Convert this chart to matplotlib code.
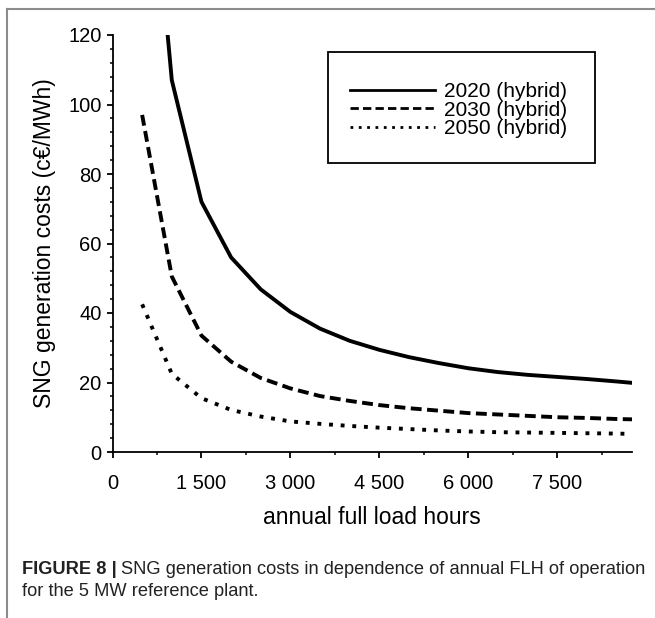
import matplotlib
matplotlib.use("Agg")
import matplotlib.pyplot as plt
from matplotlib.lines import Line2D
from matplotlib.patches import Rectangle
from matplotlib.ticker import MultipleLocator, FuncFormatter

plt.rcParams['font.family'] = ['Liberation Sans', 'DejaVu Sans']

# full load hours (h/a)
hours = [500, 1000, 1500, 2000, 2500, 3000, 3500, 4000, 4500, 5000,
         5500, 6000, 6500, 7000, 7500, 8000, 8500, 8760]

# SNG generation costs (c€/MWh)
cost_2020 = [200, 107, 72, 56, 46.8, 40.3, 35.5, 32.0, 29.4, 27.3,
             25.6, 24.1, 23.0, 22.2, 21.6, 21.0, 20.3, 19.9]
cost_2030 = [97, 50.5, 33.5, 26.0, 21.3, 18.3, 16.1, 14.7, 13.5, 12.6,
             11.9, 11.2, 10.8, 10.4, 10.0, 9.8, 9.5, 9.4]
cost_2050 = [42.5, 22.5, 15.5, 12.1, 10.2, 8.8, 8.1, 7.5, 7.0, 6.6,
             6.2, 5.9, 5.7, 5.6, 5.5, 5.4, 5.3, 5.2]

labels = ['2020 (hybrid)', '2030 (hybrid)', '2050 (hybrid)']

fig = plt.figure(figsize=(6.55, 6.18), dpi=100)
W, H = 655, 618

ax = fig.add_axes([112.5 / W, 1 - 452 / H, (632 - 112.5) / W, (452 - 35) / H])

lw = 2.8
ax.plot(hours, cost_2020, color='black', lw=lw, solid_joinstyle='round')
ax.plot(hours, cost_2030, color='black', lw=lw, linestyle=(0, (2.8, 1.4)),
        dash_capstyle='butt')
ax.plot(hours, cost_2050, color='black', lw=lw, linestyle=(0, (1.0, 2.0)),
        dash_capstyle='butt')

ax.set_xlim(0, 8760)
ax.set_ylim(0, 120)
ax.xaxis.set_major_locator(MultipleLocator(1500))
ax.xaxis.set_minor_locator(MultipleLocator(750))
ax.yaxis.set_major_locator(MultipleLocator(20))
ax.yaxis.set_minor_locator(MultipleLocator(4))
ax.xaxis.set_major_formatter(FuncFormatter(lambda v, p: f"{int(v):,}".replace(",", " ")))

for s in ['top', 'right']:
    ax.spines[s].set_visible(False)
for s in ['left', 'bottom']:
    ax.spines[s].set_linewidth(1.3)
ax.tick_params(which='major', direction='out', length=4, width=1.3, labelsize=14.5)
ax.tick_params(which='minor', direction='out', length=2.5, width=1.1)
ax.tick_params(axis='y', which='major', pad=4)
ax.tick_params(axis='x', which='major', pad=12)

fig.text(45 / W, 1 - 243.5 / H, 'SNG generation costs (c€/MWh)', rotation=90,
         ha='center', va='center', fontsize=16.5)
fig.text(372 / W, 1 - 518 / H, 'annual full load hours',
         ha='center', va='center', fontsize=16.5)

# legend: box drawn separately, entries placed inside it
fig.add_artist(Rectangle((328 / W, 1 - 163 / H), (595 - 328) / W, (163 - 52) / H,
                         transform=fig.transFigure, facecolor='white',
                         edgecolor='black', lw=1.3, zorder=3))
handles = [Line2D([], [], color='black', lw=2.0),
           Line2D([], [], color='black', lw=2.0, linestyle=(0, (3, 1.5))),
           Line2D([], [], color='black', lw=2.0, linestyle=(0, (1, 2)))]
leg = fig.legend(handles, labels, loc='center left',
                 bbox_to_anchor=(350 / W, 1 - 110 / H),
                 fontsize=15, frameon=False, borderpad=0, borderaxespad=0,
                 labelspacing=-0.03, handlelength=4.1, handletextpad=0.43)
leg.set_zorder(4)

# page frame (left and top edges)
fig.add_artist(Line2D([7 / W, 7 / W], [0, 1 - 9 / H], color='#8c8c8c', lw=1.5,
                      transform=fig.transFigure))
fig.add_artist(Line2D([7 / W, 1], [1 - 9 / H, 1 - 9 / H], color='#8c8c8c', lw=1.5,
                      transform=fig.transFigure))

# caption, scaled so the first line spans the page width
cap_x0, cap_x1 = 22, 650
fs = 14
t1 = fig.text(cap_x0 / W, 1 - 570 / H, 'FIGURE 8 |', fontsize=fs, fontweight='bold',
              color='#222222', va='center', ha='left')
t2 = fig.text(0, 1 - 570 / H,
              'SNG generation costs in dependence of annual FLH of operation',
              fontsize=fs, color='#222222', va='center', ha='left')
t3 = fig.text(cap_x0 / W, 1 - 591 / H, 'for the 5 MW reference plant.',
              fontsize=fs, color='#222222', va='center', ha='left')
r = fig.canvas.get_renderer()
total = t1.get_window_extent(r).width + 5 + t2.get_window_extent(r).width
fs = fs * (cap_x1 - cap_x0) / total
for t in (t1, t2, t3):
    t.set_fontsize(fs)
bb = t1.get_window_extent(r)
t2.set_x((bb.x1 + 5 * fs / 14) / W)

fig.savefig('out.png', dpi=100)
